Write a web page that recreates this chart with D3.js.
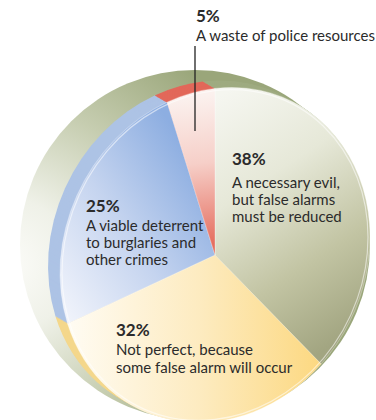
<!DOCTYPE html>
<html><head><meta charset="utf-8">
<script src="https://cdn.jsdelivr.net/npm/d3@7"></script>
<style>
html,body{margin:0;padding:0;background:#fff;}
svg{display:block;}
text{font-family:Lato,"Open Sans",sans-serif;fill:#2b2b2b;}
</style></head>
<body>
<svg id="c" width="376" height="420"></svg>
<script>
// ---- data ----
const categories = ["A necessary evil, but false alarms must be reduced",
                    "Not perfect, because some false alarm will occur",
                    "A viable deterrent to burglaries and other crimes",
                    "A waste of police resources"];
const values = [38, 32, 25, 5];
const pctLabels = ["38%", "32%", "25%", "5%"];
const labelLines = [["A necessary evil,", "but false alarms", "must be reduced"],
                    ["Not perfect, because", "some false alarm will occur"],
                    ["A viable deterrent", "to burglaries and", "other crimes"],
                    ["A waste of police resources"]];

const svg = d3.select("#c");
const defs = svg.append("defs");

// background disc gradient
const bg = defs.append("radialGradient").attr("id","bgGrad")
  .attr("gradientUnits","userSpaceOnUse").attr("cx",5).attr("cy",265).attr("r",270);
[[0,"#fcfcf9"],[0.25,"#eff1e8"],[0.6,"#c6cdb0"],[1,"#9aa67a"]].forEach(s=>
  bg.append("stop").attr("offset",s[0]).attr("stop-color",s[1]));

function lin(id, x1,y1,x2,y2, stops){
  const g = defs.append("linearGradient").attr("id",id).attr("gradientUnits","userSpaceOnUse")
    .attr("x1",x1).attr("y1",y1).attr("x2",x2).attr("y2",y2);
  stops.forEach(s=>g.append("stop").attr("offset",s[0]).attr("stop-color",s[1]));
}
// local coords (relative to pie centre)
lin("gGreen", 10,-150, 130,90, [[0,"#f5f6f0"],[0.35,"#e6e8d8"],[0.7,"#c2c4a3"],[1,"#a2a581"]]);
lin("gYellow", -150,0, 120,0, [[0,"#fffcf4"],[0.5,"#fdebc0"],[1,"#fcd679"]]);
lin("gBlue", -150,40, 0,-60, [[0,"#f0f3fb"],[0.5,"#c5d4ef"],[1,"#8daee1"]]);
lin("gRed", 0,-150, 0,-10, [[0,"#fbf1ee"],[0.45,"#f6cfc8"],[1,"#e56d5e"]]);

const faceFill = ["url(#gGreen)","url(#gYellow)","url(#gBlue)","url(#gRed)"];
const rimFill = ["#9fab80","#f4d78b","#adc3e5","#e2685a"];

const pie = d3.pie().sort(null).value(d=>d);
const arcs = pie(values);
const R = 155;
const arc = d3.arc().innerRadius(0).outerRadius(R);

// background disc
svg.append("circle").attr("cx",195).attr("cy",245).attr("r",175).attr("fill","url(#bgGrad)");

const cx = 215, cy = 255, skew = -0.117, sy = 1.075;
// rim (extrusion)
const N = 12, dx = -12, dy = -7;
for (let k = N; k >= 1; k--) {
  const t = k / N;
  svg.append("g")
    .attr("transform",`matrix(1,${skew},0,${sy},${cx+dx*t},${cy+dy*t})`)
    .selectAll("path").data(arcs).join("path")
    .attr("d",arc).attr("fill",(d,i)=>rimFill[i]);
}
// face
const face = svg.append("g").attr("transform",`matrix(1,${skew},0,${sy},${cx},${cy})`);
face.selectAll("path.s").data(arcs).join("path").attr("class","s")
  .attr("d",arc).attr("fill",(d,i)=>faceFill[i])
  .attr("stroke","rgba(255,255,255,0.35)").attr("stroke-width",0.8);
face.append("circle").attr("r",R-2).attr("fill","none")
  .attr("stroke","rgba(255,255,255,0.55)").attr("stroke-width",1.2);

// leader line for the 5% slice
svg.append("line").attr("x1",195).attr("y1",46).attr("x2",195).attr("y2",131)
  .attr("stroke","#222").attr("stroke-width",1.3);

// labels
const labelPos = [[232,165,188,17],[116,336,355,18],[86,212,231,17],[196,22,41,0]];
arcs.forEach((a,i)=>{
  const [x,yp,y0,lh] = labelPos[i];
  svg.append("text").attr("x",x).attr("y",yp).attr("font-size",17).attr("font-weight",700).text(pctLabels[i]);
  labelLines[i].forEach((ln,j)=>{
    svg.append("text").attr("x",x).attr("y",y0+j*lh).attr("font-size",15).text(ln);
  });
});
</script>
</body></html>
